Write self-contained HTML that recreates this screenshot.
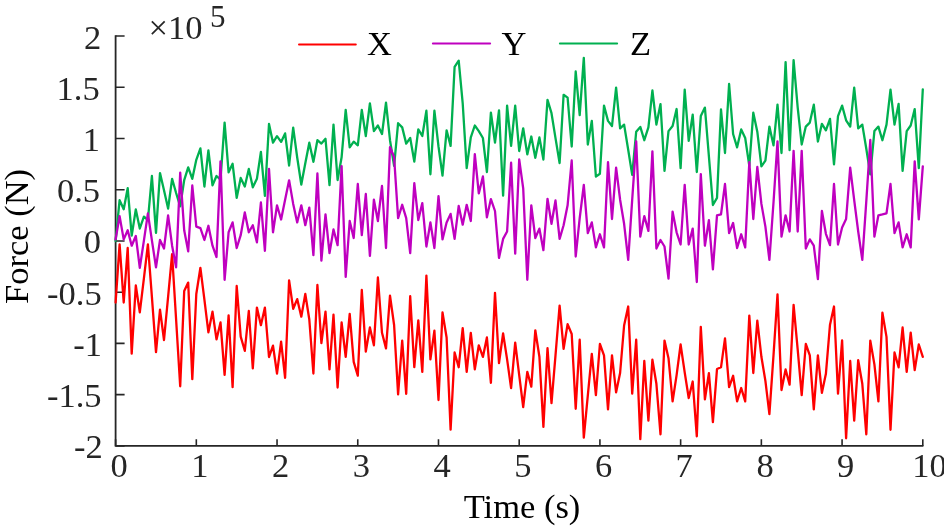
<!DOCTYPE html>
<html><head><meta charset="utf-8"><title>Force vs Time</title>
<style>html,body{margin:0;padding:0;background:#fff;overflow:hidden}svg{display:block}</style></head>
<body><svg width="944" height="528" viewBox="0 0 944 528">
<rect width="944" height="528" fill="#fff"/>
<path d="M115.6 35.2V445.9H923.4" fill="none" stroke="#262626" stroke-width="1.8"/>
<path d="M115.6 445.90h9 M115.6 394.66h9 M115.6 343.42h9 M115.6 292.19h9 M115.6 240.95h9 M115.6 189.71h9 M115.6 138.48h9 M115.6 87.24h9 M115.6 36.00h9 M115.60 445.9v-6.6 M196.32 445.9v-6.6 M277.04 445.9v-6.6 M357.76 445.9v-6.6 M438.48 445.9v-6.6 M519.20 445.9v-6.6 M599.92 445.9v-6.6 M680.64 445.9v-6.6 M761.36 445.9v-6.6 M842.08 445.9v-6.6 M922.80 445.9v-6.6" fill="none" stroke="#262626" stroke-width="1.6"/>
<path d="M115.6,302.5 119.6,244.3 123.7,302.5 127.7,248.0 131.7,353.6 135.8,285.5 139.8,312.4 143.9,278.4 147.9,244.3 151.9,296.8 156.0,352.2 160.0,309.6 164.0,340.0 168.1,296.8 172.1,254.2 176.1,319.5 180.2,386.3 184.2,291.1 188.2,282.6 192.3,379.2 196.3,294.0 200.4,267.8 204.4,299.7 208.4,332.3 212.5,311.6 216.5,339.4 220.5,322.4 224.6,374.9 228.6,315.3 232.6,387.2 236.7,286.0 240.7,336.6 244.8,350.8 248.8,311.0 252.8,368.4 256.9,307.6 260.9,325.2 264.9,307.6 269.0,357.0 273.0,345.7 277.0,373.5 281.1,341.7 285.1,377.8 289.1,280.3 293.2,308.8 297.2,299.1 301.3,316.7 305.3,294.0 309.3,319.5 313.4,373.5 317.4,285.0 321.4,343.1 325.5,311.6 329.5,369.4 333.5,314.7 337.6,387.5 341.6,322.5 345.7,356.9 349.7,313.8 353.7,361.9 357.8,375.6 361.8,290.0 365.8,351.6 369.9,327.5 373.9,345.3 377.9,277.5 382.0,332.8 386.0,348.4 390.0,295.6 394.1,325.0 398.1,394.4 402.2,340.6 406.2,393.8 410.2,296.2 414.3,367.2 418.3,320.3 422.3,371.9 426.4,275.6 430.4,359.4 434.4,330.6 438.5,400.0 442.5,312.5 446.6,337.5 450.6,429.7 454.6,352.5 458.7,367.2 462.7,328.1 466.7,371.9 470.8,332.8 474.8,369.4 478.8,345.3 482.9,356.9 486.9,337.5 490.9,382.8 495.0,292.8 499.0,363.1 503.1,333.4 507.1,359.4 511.1,388.1 515.2,342.6 519.2,375.2 523.2,407.0 527.3,371.8 531.3,386.6 535.3,330.3 539.4,356.8 543.4,426.9 547.5,348.2 551.5,403.1 555.5,355.3 559.6,305.6 563.6,348.8 567.6,324.1 571.7,334.0 575.7,408.8 579.7,339.7 583.8,437.7 587.8,395.7 591.8,353.9 595.9,395.1 599.9,344.0 604.0,355.3 608.0,409.3 612.0,355.3 616.1,392.3 620.1,373.0 624.1,325.5 628.2,306.5 632.2,393.7 636.2,339.7 640.3,439.1 644.3,361.0 648.4,420.7 652.4,359.6 656.4,383.8 660.5,434.3 664.5,340.6 668.5,358.2 672.6,401.4 676.6,375.2 680.6,344.5 684.7,372.4 688.7,398.0 692.7,381.5 696.8,436.3 700.8,326.9 704.9,399.4 708.9,373.2 712.9,422.1 717.0,369.0 721.0,367.3 725.0,338.3 729.1,387.2 733.1,375.8 737.1,401.4 741.2,388.0 745.2,401.4 749.3,315.6 753.3,373.0 757.3,320.7 761.4,356.8 765.4,380.9 769.4,414.1 773.5,355.3 777.5,294.3 781.5,390.0 785.6,369.5 789.6,384.6 793.6,304.8 797.7,349.7 801.7,395.1 805.8,344.0 809.8,355.3 813.8,409.3 817.9,355.3 821.9,392.8 825.9,373.8 830.0,324.7 834.0,306.5 838.0,393.7 842.1,340.3 846.1,438.3 850.2,361.0 854.2,420.7 858.2,360.2 862.3,383.8 866.3,434.3 870.3,340.6 874.4,364.4 878.4,401.4 882.4,312.7 886.5,336.9 890.5,429.8 894.5,352.5 898.6,367.3 902.6,327.5 906.7,371.8 910.7,332.6 914.7,370.1 918.8,344.5 922.8,356.8" fill="none" stroke="#FF0000" stroke-width="2.3" stroke-linejoin="round" stroke-linecap="round"/>
<path d="M115.6,241.0 119.6,200.1 123.7,209.2 127.7,188.2 131.7,235.6 135.8,209.5 139.8,228.5 143.9,216.6 147.9,220.0 151.9,176.0 156.0,232.8 160.0,173.1 164.0,190.2 168.1,208.6 172.1,178.8 176.1,193.0 180.2,206.4 184.2,180.2 188.2,167.4 192.3,178.8 196.3,159.8 200.4,148.4 204.4,186.5 208.4,150.4 212.5,185.3 216.5,176.0 220.5,179.7 224.6,122.6 228.6,172.3 232.6,163.8 236.7,197.8 240.7,178.0 244.8,186.5 248.8,168.9 252.8,187.3 256.9,178.8 260.9,151.8 264.9,195.9 269.0,124.0 273.0,142.7 277.0,136.2 281.1,141.9 285.1,133.4 289.1,165.5 293.2,127.7 297.2,157.5 301.3,184.5 305.3,163.2 309.3,142.7 313.4,161.8 317.4,140.2 321.4,143.6 325.5,138.8 329.5,185.1 333.5,124.6 337.6,180.0 341.6,157.3 345.7,109.8 349.7,147.3 353.7,141.6 357.8,145.3 361.8,109.8 365.8,136.0 369.9,103.3 373.9,131.1 377.9,125.5 382.0,134.0 386.0,102.7 390.0,140.2 394.1,165.8 398.1,123.2 402.2,127.4 406.2,143.6 410.2,138.0 414.3,161.5 418.3,129.4 422.3,136.0 426.4,110.7 430.4,174.3 434.4,110.7 438.5,146.5 442.5,175.7 446.6,130.3 450.6,145.9 454.6,66.9 458.7,60.7 462.7,103.3 466.7,168.1 470.8,137.4 474.8,125.5 478.8,131.1 482.9,138.0 486.9,172.0 490.9,112.7 495.0,142.5 499.0,110.4 503.1,195.6 507.1,105.6 511.1,145.9 515.2,105.6 519.2,151.0 523.2,128.3 527.3,154.4 531.3,136.5 535.3,157.8 539.4,137.4 543.4,159.5 547.5,99.9 551.5,113.2 555.5,138.1 559.6,163.0 563.6,94.8 567.6,97.6 571.7,146.5 575.7,71.5 579.7,115.2 583.8,57.8 587.8,144.5 591.8,120.9 595.9,176.6 599.9,173.8 604.0,105.6 608.0,120.9 612.0,126.0 616.1,87.7 620.1,128.3 624.1,124.6 628.2,149.7 632.2,174.9 636.2,131.7 640.3,126.9 644.3,140.2 648.4,127.4 652.4,90.5 656.4,124.6 660.5,104.1 664.5,170.9 668.5,131.1 672.6,126.0 676.6,109.0 680.6,168.1 684.7,89.7 688.7,140.8 692.7,114.7 696.8,172.0 700.8,116.1 704.9,107.6 708.9,156.3 712.9,205.0 717.0,197.9 721.0,109.5 725.0,153.0 729.1,84.0 733.1,134.0 737.1,147.3 741.2,129.4 745.2,138.0 749.3,165.8 753.3,112.7 757.3,131.7 761.4,166.4 765.4,160.7 769.4,126.6 773.5,145.3 777.5,104.7 781.5,153.0 785.6,62.1 789.6,150.2 793.6,60.1 797.7,107.6 801.7,144.5 805.8,126.6 809.8,122.6 813.8,104.7 817.9,141.6 821.9,123.8 825.9,130.3 830.0,118.9 834.0,164.4 838.0,116.1 842.1,105.6 846.1,120.3 850.2,126.6 854.2,87.7 858.2,128.3 862.3,124.6 866.3,148.8 870.3,174.3 874.4,131.1 878.4,126.6 882.4,140.2 886.5,124.6 890.5,89.7 894.5,124.6 898.6,103.9 902.6,170.9 906.7,131.1 910.7,125.5 914.7,109.1 918.8,168.2 922.8,89.3" fill="none" stroke="#00B050" stroke-width="2.3" stroke-linejoin="round" stroke-linecap="round"/>
<path d="M115.6,239.4 119.6,216.1 123.7,239.4 127.7,230.3 131.7,245.7 135.8,236.0 139.8,267.8 143.9,240.6 147.9,213.3 151.9,240.3 156.0,267.3 160.0,240.0 164.0,248.5 168.1,215.3 172.1,245.7 176.1,267.3 180.2,172.7 184.2,230.3 188.2,251.4 192.3,185.5 196.3,226.6 200.4,228.1 204.4,240.0 208.4,225.8 212.5,245.7 216.5,257.0 220.5,161.3 224.6,279.8 228.6,232.3 232.6,222.4 236.7,248.0 240.7,235.2 244.8,212.4 248.8,232.3 252.8,225.2 256.9,242.3 260.9,202.5 264.9,250.8 269.0,169.0 273.0,232.3 277.0,205.3 281.1,219.5 285.1,199.7 289.1,180.3 293.2,203.9 297.2,222.4 301.3,205.3 305.3,225.2 309.3,207.6 313.4,255.1 317.4,173.5 321.4,260.7 325.5,214.4 329.5,253.1 333.5,229.5 337.6,245.1 341.6,166.1 345.7,276.9 349.7,221.0 353.7,238.0 357.8,184.0 361.8,235.2 365.8,194.0 369.9,255.9 373.9,199.7 377.9,221.0 382.0,186.0 386.0,248.0 390.0,147.1 394.1,157.0 398.1,218.1 402.2,204.8 406.2,218.1 410.2,253.1 414.3,183.2 418.3,220.1 422.3,203.1 426.4,246.5 430.4,222.4 434.4,248.0 438.5,196.2 442.5,239.4 446.6,222.4 450.6,213.9 454.6,238.9 458.7,205.9 462.7,224.7 466.7,204.8 470.8,221.0 474.8,154.2 478.8,193.4 482.9,176.4 486.9,217.3 490.9,199.1 495.0,211.0 499.0,257.9 503.1,238.9 507.1,231.5 511.1,162.7 515.2,253.6 519.2,159.3 523.2,188.3 527.3,279.8 531.3,205.3 535.3,238.0 539.4,228.6 543.4,250.2 547.5,198.8 551.5,223.8 555.5,200.5 559.6,238.9 563.6,225.2 567.6,205.3 571.7,160.5 575.7,256.5 579.7,218.1 583.8,184.9 587.8,233.2 591.8,222.4 595.9,247.4 599.9,234.3 604.0,247.4 608.0,162.2 612.0,219.0 616.1,167.6 620.1,199.7 624.1,223.8 628.2,259.9 632.2,199.7 636.2,141.4 640.3,236.6 644.3,216.1 648.4,230.9 652.4,151.4 656.4,248.5 660.5,240.0 664.5,246.5 668.5,278.6 672.6,211.6 676.6,232.3 680.6,244.5 684.7,184.9 688.7,244.5 692.7,228.6 696.8,282.0 700.8,174.1 704.9,245.7 708.9,220.1 712.9,269.3 717.0,215.3 721.0,214.4 725.0,184.0 729.1,233.2 733.1,223.0 737.1,248.0 741.2,234.3 745.2,247.4 749.3,162.2 753.3,219.0 757.3,167.0 761.4,203.9 765.4,226.6 769.4,259.9 773.5,202.5 777.5,141.4 781.5,236.6 785.6,215.3 789.6,231.5 793.6,150.8 797.7,231.5 801.7,150.8 805.8,248.5 809.8,239.4 813.8,245.7 817.9,279.2 821.9,211.0 825.9,233.8 830.0,245.1 834.0,184.0 838.0,244.5 842.1,227.5 846.1,219.0 850.2,167.6 854.2,200.2 858.2,231.5 862.3,259.9 866.3,201.1 870.3,140.0 874.4,236.6 878.4,215.3 882.4,214.4 886.5,213.3 890.5,184.0 894.5,233.2 898.6,222.4 902.6,247.4 906.7,234.3 910.7,247.4 914.7,161.4 918.8,219.3 922.8,166.3" fill="none" stroke="#BF00BF" stroke-width="2.3" stroke-linejoin="round" stroke-linecap="round"/>
<path d="M299 44.6H355.8" stroke="#FF0000" stroke-width="2" stroke-linecap="round"/>
<path d="M432.9 43.4H490.1" stroke="#BF00BF" stroke-width="2" stroke-linecap="round"/>
<path d="M559.9 43.4H617.1" stroke="#00B050" stroke-width="2" stroke-linecap="round"/>
<g font-family="'Liberation Serif','Times New Roman',serif" font-size="34.5" fill="#262626">
<text x="102.7" y="458.4" text-anchor="end">-2</text>
<text x="101.6" y="407.2" text-anchor="end">-1.5</text>
<text x="102.1" y="355.9" text-anchor="end">-1</text>
<text x="101.7" y="304.7" text-anchor="end">-0.5</text>
<text x="101.1" y="253.4" text-anchor="end">0</text>
<text x="100.0" y="202.2" text-anchor="end">0.5</text>
<text x="99.9" y="151.0" text-anchor="end">1</text>
<text x="99.7" y="99.7" text-anchor="end">1.5</text>
<text x="101.2" y="48.5" text-anchor="end">2</text>
<text x="119.2" y="476.8" text-anchor="middle">0</text>
<text x="199.9" y="476.8" text-anchor="middle">1</text>
<text x="280.6" y="476.8" text-anchor="middle">2</text>
<text x="361.4" y="476.8" text-anchor="middle">3</text>
<text x="442.1" y="476.8" text-anchor="middle">4</text>
<text x="522.8" y="476.8" text-anchor="middle">5</text>
<text x="603.5" y="476.8" text-anchor="middle">6</text>
<text x="684.2" y="476.8" text-anchor="middle">7</text>
<text x="765.0" y="476.8" text-anchor="middle">8</text>
<text x="845.7" y="476.8" text-anchor="middle">9</text>
<text x="929.4" y="476.8" text-anchor="middle">10</text>
<text x="522" y="517.7" text-anchor="middle" fill="#000">Time (s)</text>
<text transform="translate(27.9,236.5) rotate(-90)" text-anchor="middle" fill="#000">Force (N)</text>
<text x="148.6" y="39.2">×10</text>
<text x="210" y="27" font-size="31">5</text>
<text x="367" y="55.1" fill="#000">X</text>
<text x="501.5" y="55.1" fill="#000">Y</text>
<text x="630" y="55.1" fill="#000">Z</text>
</g>
</svg></body></html>
